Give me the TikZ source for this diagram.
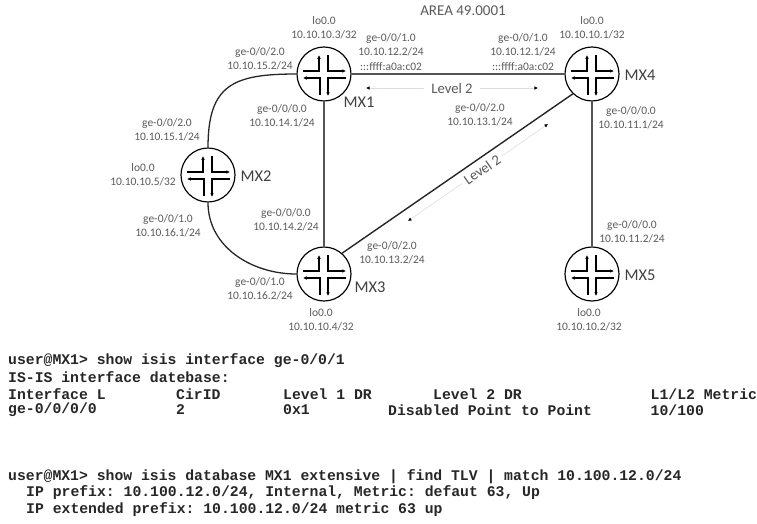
\documentclass[tikz,border=0pt]{standalone}
\usepackage{fontspec}
\setmainfont{Carlito}
\setmonofont{Liberation Mono}
\usepackage{tikz}
\usepackage{xcolor}
\usetikzlibrary{arrows.meta}

\definecolor{labelgray}{HTML}{5A5A5A}
\definecolor{linkgray}{HTML}{555555}
\definecolor{levelgray}{HTML}{D8DEE4}

\tikzset{
    router/.style={circle, draw=black, line width=1pt, minimum size=54*0.03cm, inner sep=0pt,
        path picture={
            \begin{scope}[shift={(path picture bounding box.center)}, line width=0.9pt, black, -{Latex[length=3.2pt, width=3.2pt]}]
                \draw (-21, -3) -- (-5, -3) -- (-5, -19);
                \draw (4, -19) -- (4, -3) -- (22, -3);
                \draw (22, 4) -- (4, 4) -- (4, 22);
                \draw (-4, 21) -- (-4, 4) -- (-21, 4);
            \end{scope}
        }},
    iflabel/.style={align=center, inner sep=0pt, text=labelgray, font=\fontsize{9.8}{12}\selectfont},
    mxlabel/.style={inner sep=0pt, text=black!75, font=\fontsize{14}{16}\selectfont},
    lvllabel/.style={fill=white, text=labelgray, font=\fontsize{12.5}{14}\selectfont},
    termline/.style={anchor=west, inner sep=0pt, text=black!85, font=\ttfamily\bfseries\fontsize{12.6}{14}\selectfont},
    straightlink/.style={draw=linkgray, line width=1.5pt},
    arclink/.style={draw=black!85, line width=1.1pt},
    levelarrow/.style={draw=levelgray, line width=0.5pt, {Latex[length=3pt, width=3pt, black]}-{Latex[length=3pt, width=3pt, black]}}
}

\begin{document}
\begin{tikzpicture}[x=0.03cm, y=-0.03cm]
    \useasboundingbox (0, 0) rectangle (757, 523);

    \node[router] (mx1) at (324, 74) {};
    \node[router] (mx2) at (208, 175) {};
    \node[router] (mx3) at (324, 274) {};
    \node[router] (mx4) at (592, 74) {};
    \node[router] (mx5) at (592, 274) {};

    \draw
    (mx1) edge[straightlink] (mx4)
    (mx1) edge[straightlink] (mx3)
    (mx4) edge[straightlink, line width=1.1pt] (mx5)
    (mx4.226) edge[arclink, line width=1.2pt] (mx3.49);
    \draw[arclink] (mx1.west) to[out=180, in=90, looseness=1.4] (mx2.north);
    \draw[arclink] (mx2.south) to[out=-90, in=180] (mx3.west);

    % level 2 adjacencies
    \coordinate (lvlleft) at (366, 88);
    \coordinate (lvlright) at (538, 88);
    \coordinate (lvllow) at (408, 221);
    \coordinate (lvlhigh) at (548, 124);
    \draw[levelarrow] (lvlleft) -- node[lvllabel, inner sep=6pt] (lvltop) {Level 2} (lvlright);
    \draw[levelarrow] (lvllow) -- node[lvllabel, pos=0.53, sloped, inner sep=3pt] (lvldiag) {Level 2} (lvlhigh);

    \node[mxlabel] (name1) at (359, 102) {MX1};
    \node[mxlabel] (name2) at (256, 176) {MX2};
    \node[mxlabel] (name3) at (370, 287) {MX3};
    \node[mxlabel] (name4) at (640, 75) {MX4};
    \node[mxlabel] (name5) at (640, 275) {MX5};

    \node[iflabel, font=\fontsize{12.8}{14}\selectfont] (area) at (463, 11) {AREA 49.0001};

    \node[iflabel] (lo1) at (324, 28) {lo0.0\\10.10.10.3/32};
    \node[iflabel] (lo2) at (143, 175) {lo0.0\\10.10.10.5/32};
    \node[iflabel] (lo3) at (321, 320) {lo0.0\\10.10.10.4/32};
    \node[iflabel] (lo4) at (592, 28) {lo0.0\\10.10.10.1/32};
    \node[iflabel] (lo5) at (589, 320) {lo0.0\\10.10.10.2/32};

    \node[iflabel] (m1ge2) at (260, 59) {ge-0/0/2.0\\10.10.15.2/24};
    \node[iflabel] (m1ge1) at (391, 52) {ge-0/0/1.0\\10.10.12.2/24\\:::ffff:a0a:c02};
    \node[iflabel] (m1ge0) at (282, 116) {ge-0/0/0.0\\10.10.14.1/24};
    \node[iflabel] (m2ge2) at (167, 130) {ge-0/0/2.0\\10.10.15.1/24};
    \node[iflabel] (m2ge1) at (168, 226) {ge-0/0/1.0\\10.10.16.1/24};
    \node[iflabel] (m3ge0) at (286, 220) {ge-0/0/0.0\\10.10.14.2/24};
    \node[iflabel] (m3ge1) at (260, 289) {ge-0/0/1.0\\10.10.16.2/24};
    \node[iflabel] (m3ge2) at (392, 253) {ge-0/0/2.0\\10.10.13.2/24};
    \node[iflabel] (m4ge1) at (523, 52) {ge-0/0/1.0\\10.10.12.1/24\\:::ffff:a0a:c02};
    \node[iflabel] (m4ge2) at (480, 115) {ge-0/0/2.0\\10.10.13.1/24};
    \node[iflabel] (m4ge0) at (631, 118) {ge-0/0/0.0\\10.10.11.1/24};
    \node[iflabel] (m5ge0) at (632, 232) {ge-0/0/0.0\\10.10.11.2/24};

    % terminal output
    \node[termline] (cmd1) at (8, 361) {user@MX1> show isis interface ge-0/0/1};
    \node[termline] (title) at (8, 377) {IS-IS interface datebase:};
    \node[termline] (hifc) at (8, 394) {Interface L};
    \node[termline] (hcir) at (176, 394) {CirID};
    \node[termline] (hdr1) at (283, 394) {Level 1 DR};
    \node[termline] (hdr2) at (433, 394) {Level 2 DR};
    \node[termline] (hmet) at (650.5, 394) {L1/L2 Metric};
    \node[termline] (vifc) at (8, 410) {ge-0/0/0/0};
    \node[termline] (vcir) at (176, 410) {2};
    \node[termline] (vdr1) at (283, 410) {0x1};
    \node[termline] (vdr2) at (388, 410) {Disabled Point to Point};
    \node[termline] (vmet) at (650.5, 410) {10/100};
    \node[termline] (cmd2) at (8, 477) {user@MX1> show isis database MX1 extensive | find TLV | match 10.100.12.0/24};
    \node[termline] (pfx1) at (26, 493) {IP prefix: 10.100.12.0/24, Internal, Metric: defaut 63, Up};
    \node[termline] (pfx2) at (26, 510) {IP extended prefix: 10.100.12.0/24 metric 63 up};
\end{tikzpicture}
\end{document}
